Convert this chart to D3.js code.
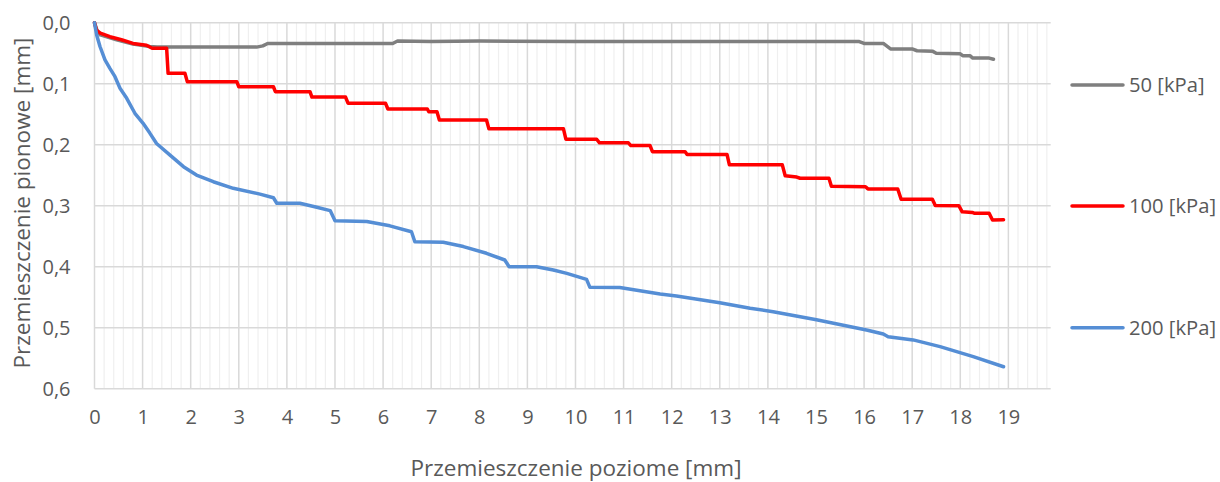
<!DOCTYPE html>
<html>
<head>
<meta charset="utf-8">
<script src="https://cdn.jsdelivr.net/npm/d3@7"></script>
<style>
  html, body { margin: 0; padding: 0; background: #fff; }
  svg text { font-family: "Open Sans", "Liberation Sans", sans-serif; fill: #595959; }
</style>
</head>
<body>
<svg id="chart" width="1220" height="482"></svg>
<script>
// Horizontal vs vertical displacement for three normal loads
const series50 = [
  [0,0],[0.05,0.012],[0.12,0.020],[0.46,0.028],[0.8,0.035],[1.15,0.039],[1.3,0.040],
  [3.37,0.040],[3.5,0.038],[3.6,0.034],[6.2,0.034],[6.3,0.030],[7,0.031],[8,0.030],
  [10,0.031],[12,0.031],[14,0.031],[15.9,0.031],[16.0,0.034],[16.4,0.034],[16.55,0.043],
  [17.0,0.043],[17.1,0.046],[17.43,0.047],[17.5,0.050],[18.0,0.051],[18.05,0.054],
  [18.2,0.054],[18.26,0.058],[18.6,0.058],[18.69,0.060]
];
const series100 = [
  [0,0],[0.04,0.012],[0.12,0.017],[0.32,0.023],[0.56,0.028],[0.8,0.034],[1.08,0.037],
  [1.2,0.042],[1.5,0.042],[1.53,0.083],[1.88,0.083],[1.93,0.097],[2.96,0.097],[3.0,0.105],
  [3.72,0.105],[3.76,0.113],[4.48,0.113],[4.52,0.122],[5.22,0.122],[5.27,0.132],[6.05,0.132],
  [6.1,0.1415],[6.92,0.1415],[6.95,0.146],[7.12,0.146],[7.17,0.1595],[8.15,0.1595],
  [8.2,0.174],[9.75,0.174],[9.8,0.191],[10.44,0.191],[10.5,0.197],[11.1,0.197],
  [11.15,0.2015],[11.55,0.2015],[11.6,0.2115],[12.28,0.2115],[12.32,0.216],[13.15,0.216],
  [13.2,0.233],[14.3,0.233],[14.36,0.251],[14.6,0.253],[14.67,0.255],[15.27,0.255],
  [15.32,0.268],[16.03,0.269],[16.08,0.2725],[16.7,0.2725],[16.77,0.2895],[17.42,0.2895],
  [17.48,0.2995],[17.97,0.300],[18.04,0.310],[18.25,0.311],[18.3,0.3125],[18.6,0.3125],
  [18.67,0.3235],[18.9,0.323]
];
const series200 = [
  [0,0],[0.045,0.020],[0.114,0.039],[0.218,0.061],[0.32,0.075],[0.426,0.0885],[0.53,0.1075],
  [0.67,0.124],[0.84,0.1485],[1.01,0.165],[1.15,0.181],[1.29,0.198],[1.57,0.217],[1.85,0.236],
  [2.12,0.2497],[2.47,0.2607],[2.885,0.2715],[3.44,0.281],[3.72,0.287],[3.79,0.296],
  [4.27,0.296],[4.6,0.302],[4.9,0.308],[5.0,0.3245],[5.66,0.326],[6.14,0.333],[6.59,0.3426],
  [6.66,0.359],[7.25,0.360],[7.67,0.367],[8.15,0.378],[8.53,0.389],[8.62,0.400],[9.19,0.400],
  [9.54,0.4054],[9.82,0.411],[10.23,0.4207],[10.3,0.4338],[10.92,0.434],[11.76,0.4448],
  [12.1,0.448],[13.0,0.459],[13.63,0.468],[14.11,0.4738],[15.01,0.487],[16.05,0.5038],
  [16.4,0.5103],[16.5,0.5147],[17.02,0.520],[17.58,0.531],[18.27,0.5475],[18.9,0.564]
];
const seriesNames = ["50 [kPa]", "100 [kPa]", "200 [kPa]"];
const seriesColors = ["#7f7f7f", "#ff0000", "#558ed5"];
const xTicks = d3.range(0, 20, 1);
const xMinorTicks = d3.range(0, 100, 1).map(i => i * 0.2);
const yTicks = [0, 0.1, 0.2, 0.3, 0.4, 0.5, 0.6];
const xTitle = "Przemieszczenie poziome [mm]";
const yTitle = "Przemieszczenie pionowe [mm]";

const svg = d3.select("#chart");
const m = { left: 94.5, top: 22.7, width: 956.2, height: 366 };
const xMax = 19.88;

const x = d3.scaleLinear().domain([0, xMax]).range([m.left, m.left + m.width]);
const y = d3.scaleLinear().domain([0, 0.6]).range([m.top, m.top + m.height]);

const fmt = d => d3.format(".1f")(d).replace(".", ",");

// minor vertical gridlines every 0.2 mm
svg.append("g").selectAll("line")
  .data(xMinorTicks.filter(v => Math.abs(v - Math.round(v)) > 1e-6 && v <= xMax))
  .join("line")
  .attr("x1", d => x(d)).attr("x2", d => x(d))
  .attr("y1", y(0)).attr("y2", y(0.6))
  .attr("stroke", "#efefef").attr("stroke-width", 1.2);

// major vertical gridlines
svg.append("g").selectAll("line")
  .data(xTicks)
  .join("line")
  .attr("x1", d => x(d)).attr("x2", d => x(d))
  .attr("y1", y(0)).attr("y2", y(0.6))
  .attr("stroke", "#d9d9d9").attr("stroke-width", 1.5);

// horizontal gridlines
svg.append("g").selectAll("line")
  .data(yTicks)
  .join("line")
  .attr("x1", x(0)).attr("x2", x(xMax))
  .attr("y1", d => y(d)).attr("y2", d => y(d))
  .attr("stroke", "#d9d9d9").attr("stroke-width", 1.5);

// axes (labels only, lines come from the grid)
const xAxis = svg.append("g")
  .attr("transform", `translate(0,${y(0.6)})`)
  .call(d3.axisBottom(x).tickValues(xTicks).tickFormat(d3.format("d")).tickSize(0).tickPadding(21));
xAxis.select(".domain").remove();
xAxis.selectAll("text").attr("font-size", 20).style("fill", "#595959")
  .style("font-family", "'Open Sans', sans-serif");

const yAxis = svg.append("g")
  .attr("transform", `translate(${x(0)},0)`)
  .call(d3.axisLeft(y).tickValues(yTicks).tickFormat(fmt).tickSize(0).tickPadding(24));
yAxis.select(".domain").remove();
yAxis.selectAll("text").attr("font-size", 20).style("fill", "#595959")
  .style("font-family", "'Open Sans', sans-serif");

// series lines
const line = d3.line().x(d => x(d[0])).y(d => y(d[1]));
[series50, series100, series200].forEach((s, i) => {
  svg.append("path")
    .datum(s)
    .attr("fill", "none")
    .attr("stroke", seriesColors[i])
    .attr("stroke-width", 3.5)
    .attr("stroke-linejoin", "round")
    .attr("stroke-linecap", "round")
    .attr("d", line);
});

// axis titles
svg.append("text")
  .attr("x", 576).attr("y", 476)
  .attr("text-anchor", "middle")
  .attr("font-size", 22.5)
  .text(xTitle);

svg.append("text")
  .attr("transform", `translate(30,${203}) rotate(-90)`)
  .attr("text-anchor", "middle")
  .attr("font-size", 22.5)
  .text(yTitle);

// legend
const legendY = [85, 206, 327.7];
const legend = svg.append("g");
seriesNames.forEach((name, i) => {
  legend.append("line")
    .attr("x1", 1072).attr("x2", 1123)
    .attr("y1", legendY[i]).attr("y2", legendY[i])
    .attr("stroke", seriesColors[i]).attr("stroke-width", 3.5)
    .attr("stroke-linecap", "round");
  legend.append("text")
    .attr("x", 1129).attr("y", legendY[i])
    .attr("dy", "0.35em")
    .attr("font-size", 20.2)
    .text(name);
});
</script>
</body>
</html>
